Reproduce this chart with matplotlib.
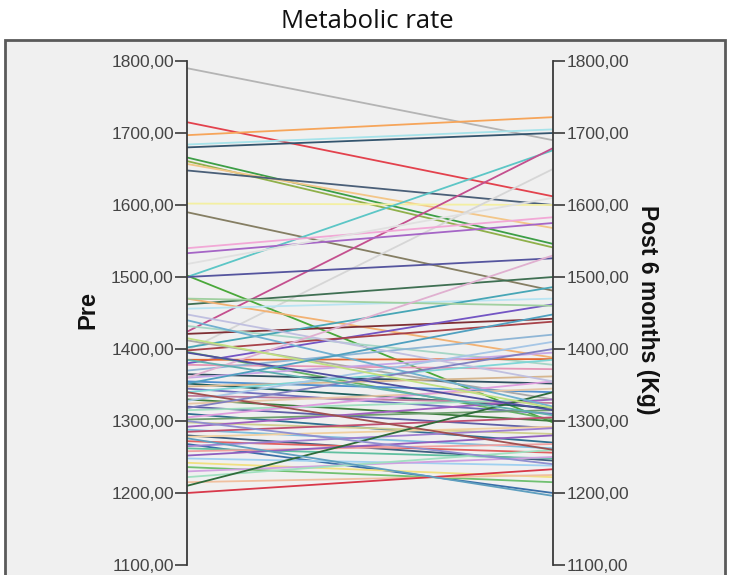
import matplotlib

matplotlib.use("Agg")

import matplotlib.pyplot as plt
from matplotlib.patches import Rectangle
from matplotlib.ticker import FuncFormatter

# Pre / Post 6 months values per subject and the line colour of each subject
pre = [
    1790, 1715, 1697, 1680, 1684, 1666, 1661, 1657, 1648, 1602,
    1590, 1500, 1424, 1398, 1533, 1540, 1502, 1500, 1462, 1470,
    1421, 1432, 1456, 1380, 1402, 1398, 1385, 1412, 1396, 1378,
    1370, 1365, 1360, 1355, 1352, 1348, 1345, 1340, 1335, 1330,
    1328, 1324, 1320, 1315, 1310, 1305, 1302, 1298, 1292, 1288,
    1285, 1280, 1278, 1272, 1268, 1265, 1262, 1258, 1252, 1248,
    1242, 1236, 1230, 1222, 1215, 1210, 1200, 1276, 1440, 1448,
    1470, 1518, 1360, 1340, 1318, 1395, 1385, 1415, 1352, 1300,
]
post = [
    1690, 1612, 1722, 1700, 1705, 1546, 1541, 1568, 1600, 1600,
    1481, 1676, 1679, 1650, 1575, 1583, 1298, 1526, 1500, 1388,
    1442, 1378, 1470, 1462, 1486, 1438, 1386, 1330, 1302, 1372,
    1420, 1352, 1395, 1340, 1318, 1362, 1310, 1385, 1325, 1300,
    1410, 1345, 1290, 1330, 1270, 1355, 1315, 1282, 1330, 1262,
    1305, 1245, 1292, 1256, 1200, 1290, 1248, 1268, 1280, 1238,
    1222, 1215, 1250, 1260, 1225, 1340, 1233, 1196, 1320, 1355,
    1460, 1610, 1530, 1260, 1400, 1315, 1308, 1318, 1448, 1240,
]
colors = [
    "#b4b4b4", "#e3424d", "#f6a55a", "#34556e", "#a6e3ea", "#3d9e46", "#8fb04a", "#f3c688", "#4a5f78", "#f3efa2",
    "#857e63", "#5cc6c6", "#c44f8e", "#d6d6d6", "#a565c6", "#f2a8d6", "#4aa83a", "#55559e", "#3f6f52", "#f2b172",
    "#7e2f34", "#a6d6c6", "#b8e4f2", "#7355c4", "#47a6b6", "#a8434a", "#e4652f", "#a9a9a9", "#66b466", "#e596b6",
    "#8fb6d6", "#2f4f5f", "#c6a6e6", "#4f8fcf", "#1f5f5f", "#d6b68f", "#6f6fbf", "#7fd6d6", "#bf7f9f", "#3f7f3f",
    "#a6c6e6", "#e6c6a6", "#5f5fa6", "#9fdfbf", "#2f6f8f", "#df9fdf", "#6f9f6f", "#cfcf8f", "#9f5fbf", "#7fbfdf",
    "#bf4f6f", "#3f5f7f", "#f0d0a0", "#e06060", "#3a6fa8", "#a080d0", "#60c0a0", "#f0a0a0", "#8f5fbf", "#9fd0f0",
    "#f0e080", "#70c070", "#d0a0e0", "#a0e0c0", "#f0c0a0", "#2e6b3a", "#d8384a", "#5f9fbf", "#70b0d0", "#c0c0e0",
    "#a0d0a0", "#e0e0e0", "#e0b0d0", "#a05050", "#8080c0", "#4f4f9f", "#60b0b0", "#c0e080", "#4fa0c0", "#8f8fd0",
]
ticks = [1100, 1200, 1300, 1400, 1500, 1600, 1700, 1800]

W, H = 730, 575
fig = plt.figure(figsize=(W / 100, H / 100), dpi=100)
fig.patches.append(
    Rectangle((5 / W, -0.02), 720 / W, (H - 40) / H + 0.02, transform=fig.transFigure,
              facecolor="#f0f0f0", edgecolor="#5a5a5a", linewidth=2.0, zorder=-10)
)

ax = fig.add_axes([187 / W, (H - 565) / H, (553 - 187) / W, (565 - 61) / H])
ax.patch.set_visible(False)

for a, b, c in zip(pre, post, colors):
    ax.plot([0, 1], [a, b], color=c, lw=1.3, solid_capstyle="butt")

ax.set_xlim(0, 1)
ax.set_ylim(1100, 1800)
ax.set_xticks([])
ax.set_yticks(ticks)
ax.yaxis.set_major_formatter(FuncFormatter(lambda v, _: f"{v:.2f}".replace(".", ",")))
for s in ("top", "bottom"):
    ax.spines[s].set_visible(False)
for s in ("left", "right"):
    ax.spines[s].set_color("#3a3a3a")
    ax.spines[s].set_linewidth(1.3)
ax.tick_params(axis="y", left=True, right=True, labelleft=True, labelright=True,
               direction="out", length=8.5, width=1.2, color="#3a3a3a",
               labelsize=12.5, labelcolor="#444444", pad=1)
for lab in ax.get_yticklabels():
    lab.set_family("Liberation Sans")

fig.text(367 / W, 1 - 22 / H, "Metabolic rate", ha="center", va="center",
         fontsize=18.5, family="Open Sans", color="#111111")
fig.text(88 / W, 1 - 310 / H, "Pre", ha="center", va="center", rotation=90,
         fontsize=17, fontweight="bold", family="Liberation Sans", color="#111111")
fig.text(648 / W, 1 - 310 / H, "Post 6 months (Kg)", ha="center", va="center", rotation=-90,
         fontsize=16.5, fontweight="bold", family="Liberation Sans", color="#111111")

fig.savefig("out.png", dpi=100)
